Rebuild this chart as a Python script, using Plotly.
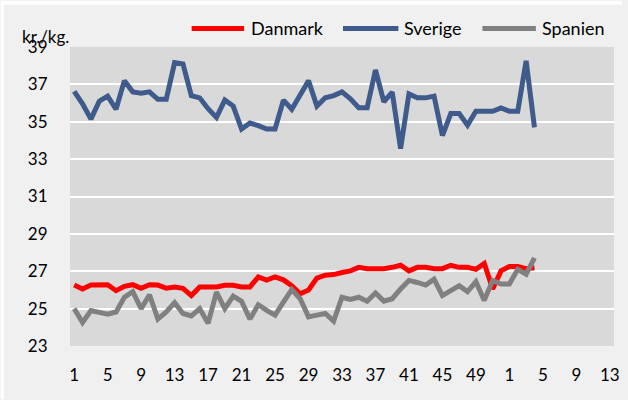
import plotly.graph_objects as go

weeks = list(range(1, 53)) + list(range(1, 14))
tick_labels = [str(w) for w in weeks]

danmark = [26.26, 26.05, 26.26, 26.28, 26.28, 25.96, 26.19, 26.28, 26.09, 26.28,
           26.26, 26.09, 26.16, 26.09, 25.70, 26.16, 26.16, 26.16, 26.25, 26.25,
           26.16, 26.16, 26.70, 26.53, 26.70, 26.54, 26.23, 25.80, 26.00, 26.63,
           26.79, 26.82, 26.93, 27.02, 27.21, 27.14, 27.14, 27.14, 27.21, 27.32,
           27.02, 27.21, 27.21, 27.14, 27.14, 27.32, 27.21, 27.21, 27.10, 27.42,
           26.05, 27.02, 27.25, 27.25, 27.14, 27.19]
sverige = [36.63, 35.96, 35.14, 36.10, 36.37, 35.67, 37.20, 36.60, 36.53, 36.60,
           36.20, 36.20, 38.16, 38.09, 36.40, 36.28, 35.70, 35.23, 36.16, 35.84,
           34.61, 34.93, 34.79, 34.61, 34.61, 36.16, 35.67, 36.46, 37.20, 35.84,
           36.28, 36.40, 36.60, 36.23, 35.75, 35.75, 37.77, 36.07, 36.58, 33.56,
           36.49, 36.28, 36.28, 36.37, 34.26, 35.44, 35.44, 34.82, 35.56, 35.56,
           35.56, 35.74, 35.56, 35.56, 38.26, 34.70]
spanien = [25.00, 24.26, 24.90, 24.79, 24.70, 24.82, 25.61, 25.91, 25.00, 25.74,
           24.44, 24.82, 25.32, 24.74, 24.61, 25.00, 24.21, 25.88, 25.00, 25.67,
           25.39, 24.44, 25.21, 24.91, 24.65, 25.35, 26.02, 25.53, 24.56, 24.65,
           24.74, 24.33, 25.61, 25.49, 25.61, 25.39, 25.84, 25.40, 25.53, 26.05,
           26.51, 26.40, 26.26, 26.58, 25.70, 25.96, 26.23, 25.91, 26.44, 25.44,
           26.51, 26.32, 26.32, 27.10, 26.84, 27.72]

series_names = ["Danmark", "Sverige", "Spanien"]
series_colors = ["#ff0000", "#3f5b8c", "#808080"]
series_values = [danmark, sverige, spanien]

y_ticks = list(range(23, 40, 2))

FONT = "Lato"
W, H = 628, 400
ML, MR, MT, MB = 70, 8, 46.5, 53.5
PW, PH = W - ML - MR, H - MT - MB

def px_x(px):
    return (px - ML) / PW

def px_y(py):
    return 1 + (MT - py) / PH

fig = go.Figure()
for name, color, vals in zip(series_names, series_colors, series_values):
    fig.add_trace(go.Scatter(
        x=list(range(1, len(vals) + 1)), y=vals, mode="lines", name=name,
        line=dict(color=color, width=5), showlegend=False,
    ))

shapes = [
    dict(type="rect", xref="paper", yref="paper", x0=px_x(0), x1=px_x(W),
         y0=px_y(4), y1=px_y(0), fillcolor="white", line_width=0, layer="above"),
    dict(type="rect", xref="paper", yref="paper", x0=px_x(0), x1=px_x(3),
         y0=px_y(H), y1=px_y(0), fillcolor="white", line_width=0, layer="above"),
]
annotations = [
    dict(text="kr./kg.", xref="paper", yref="paper", x=px_x(19), y=px_y(36),
         xanchor="left", yanchor="middle", showarrow=False,
         font=dict(family=FONT, size=17, color="#000000")),
]
leg_pos = [(193, 246, 251), (346, 402, 406), (487, 541, 545)]
for (lx0, lx1, tx), name, color in zip(leg_pos, series_names, series_colors):
    shapes.append(dict(type="line", xref="paper", yref="paper",
                       x0=px_x(lx0), x1=px_x(lx1), y0=px_y(28), y1=px_y(28),
                       line=dict(color=color, width=5)))
    annotations.append(dict(text=name, xref="paper", yref="paper", x=px_x(tx),
                            y=px_y(27.5), xanchor="left", yanchor="middle",
                            showarrow=False,
                            font=dict(family=FONT, size=18, color="#000000")))

fig.update_layout(
    width=W, height=H,
    margin=dict(l=ML, r=MR, t=MT, b=MB, pad=0),
    paper_bgcolor="#f0f0f0", plot_bgcolor="#d9d9d9",
    font=dict(family=FONT, size=17, color="#000000"),
    shapes=shapes, annotations=annotations,
    xaxis=dict(range=[0.5, len(weeks) + 0.5], tickmode="array",
               tickvals=list(range(1, len(weeks) + 1, 4)),
               ticktext=tick_labels[::4], showgrid=False, zeroline=False,
               showline=False, ticks="outside", ticklen=14,
               tickcolor="rgba(0,0,0,0)",
               tickfont=dict(family=FONT, size=17)),
    yaxis=dict(range=[23, 39], tickvals=y_ticks, showgrid=True,
               gridcolor="#ffffff", gridwidth=2, zeroline=False,
               showline=False, ticks="outside", ticklen=18,
               tickcolor="rgba(0,0,0,0)",
               tickfont=dict(family=FONT, size=17)),
)

fig.write_html("out.html", config={"displayModeBar": False},
               post_script="document.body.style.margin='0px';document.body.style.padding='0px';")
